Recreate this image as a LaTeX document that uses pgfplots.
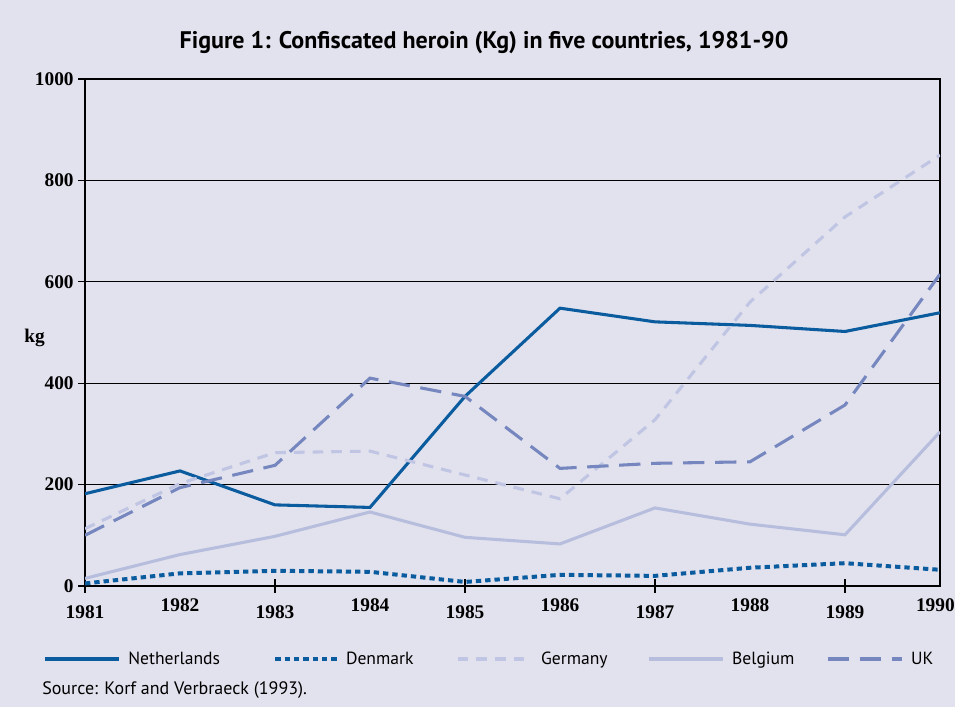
\documentclass[border=0pt]{standalone}
\usepackage{fontspec}
\setmainfont{PT Sans}
\newfontfamily\tickfont{Liberation Serif}
\usepackage{pgfplots}
\pgfplotsset{compat=1.18}
\pgfplotsset{shortleg/.style={legend image code/.code={\draw[##1] (0pt,0pt) -- (46pt,0pt);}}}
\definecolor{bg}{HTML}{E2E2EE}
\definecolor{nl}{HTML}{0B5C9E}
\definecolor{uk}{HTML}{7587BE}
\definecolor{de}{HTML}{BFC5E2}
\definecolor{be}{HTML}{B7BEDD}
\begin{document}
\begin{tikzpicture}
\useasboundingbox (0pt,0pt) rectangle (716.25pt,530.25pt);
\fill[bg] (0pt,0pt) rectangle (716.25pt,530.25pt);
\node[font=\bfseries\fontsize{18}{21}\selectfont] at (363pt,498pt) {Figure 1: Confiscated heroin (Kg) in five countries, 1981-90};
\node[font=\tickfont\bfseries\fontsize{14.5}{16}\selectfont] at (26pt,277pt) {kg};
\node[anchor=west, inner sep=0pt, font=\fontsize{13.5}{16}\selectfont] at (31.5pt,12.75pt) {Source: Korf and Verbraeck (1993).};
\begin{axis}[
  at={(63.75pt,90.75pt)}, anchor=south west,
  scale only axis, width=641.25pt, height=380.25pt,
  xmin=1981, xmax=1990, ymin=0, ymax=1000,
  axis background/.style={fill=bg},
  axis line style={black, line width=0.8pt},
  ymajorgrids, major grid style={black, line width=0.8pt},
  ytick={0,200,...,1000},
  xtick={1981,1983,1985,1987,1989},
  xticklabels={1981,1983,1985,1987,1989},
  extra x ticks={1982,1984,1986,1988,1990},
  extra x tick labels={1982,1984,1986,1988,\hspace*{-7pt}1990},
  extra x tick style={major tick length=0pt},
  tick pos=left, tick align=center, major tick length=10pt,
  tick style={black, line width=0.8pt},
  /pgf/number format/assume math mode=true,
  /pgf/number format/1000 sep={},
  ticklabel style={font=\tickfont\bfseries\fontsize{14.5}{16}\selectfont},
  xticklabel style={yshift=-6pt},
  legend columns=5,
  legend style={at={(axis description cs:-0.0491,-0.144)}, anchor=west, draw=none, fill=none,
    inner sep=0pt, nodes={inner sep=0pt},
    font=\fontsize{13.2}{16}\selectfont,
    /tikz/every odd column/.append style={column sep=5.5pt},
    /tikz/every even column/.append style={column sep=0pt}},
  legend cell align=left,
  legend image code/.code={\draw[#1] (0pt,0pt) -- (56pt,0pt);},
]
\addplot[nl, line width=2.3pt] coordinates {
(1981,182) (1982,227) (1983,160) (1984,155) (1985,374) (1986,548) (1987,521) (1988,514) (1989,502) (1990,539)};
\addlegendentry{\makebox[108.75pt][l]{Netherlands}}
\addplot[nl, line width=3pt, dash pattern=on 4pt off 3pt, shortleg] coordinates {
(1981,5) (1982,25) (1983,30) (1984,28) (1985,8) (1986,22) (1987,20) (1988,36) (1989,45) (1990,32)};
\addlegendentry{\makebox[82.5pt][l]{Denmark}}
\addplot[de, line width=2.3pt, dash pattern=on 8pt off 6pt] coordinates {
(1981,113) (1982,202) (1983,263) (1984,266) (1985,219) (1986,172) (1987,328) (1988,560) (1989,728) (1990,850)};
\addlegendentry{\makebox[79.5pt][l]{Germany}}
\addplot[be, line width=2.3pt] coordinates {
(1981,15) (1982,62) (1983,98) (1984,146) (1985,96) (1986,83) (1987,154) (1988,122) (1989,101) (1990,304)};
\addlegendentry{\makebox[70.5pt][l]{Belgium}}
\addplot[uk, line width=2.3pt, dash pattern=on 16pt off 8pt] coordinates {
(1981,100) (1982,194) (1983,238) (1984,410) (1985,374) (1986,232) (1987,242) (1988,245) (1989,357) (1990,615)};
\addlegendentry{UK}
\end{axis}
\end{tikzpicture}
\end{document}
